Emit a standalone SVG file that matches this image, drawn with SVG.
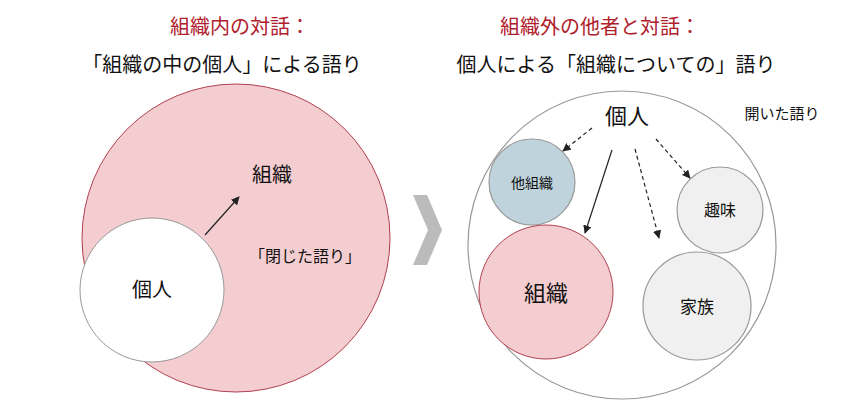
<svg xmlns="http://www.w3.org/2000/svg" width="846" height="420" viewBox="0 0 846 420">
<style>
text{font-family:"Noto Sans CJK JP","Noto Sans",sans-serif;text-anchor:middle;fill:#111}
.t{font-size:20px}
.r{fill:#b0202c;font-size:20px}
.s{stroke:#999;stroke-width:1.2}
.a{stroke:#222;stroke-width:1.2;fill:none;marker-end:url(#m)}
.d{stroke-dasharray:4 3}
</style>
<defs><marker id="m" viewBox="0 0 10 10" refX="9" refY="5" markerWidth="7" markerHeight="7" orient="auto"><path d="M0,0L10,5L0,10z" fill="#222"/></marker></defs>
<text class="r" x="240" y="34">組織内の対話：</text>
<text class="t" x="222" y="72">「組織の中の個人」による語り</text>
<text class="r" x="600" y="34">組織外の他者と対話：</text>
<text class="t" x="616" y="72">個人による「組織についての」語り</text>
<g id="left-org"><circle cx="236" cy="238" r="154" fill="#f4cdd0" stroke="#b04050" stroke-width="1"/>
<text x="272" y="182" font-size="20">組織</text><text x="305" y="262" font-size="16">「閉じた語り」</text></g>
<g id="left-ind"><circle cx="152" cy="290" r="72" fill="#fff" stroke="#999" stroke-width="1"/><text x="152" y="297" font-size="20">個人</text></g>
<polygon points="413,195 427,195 442,230 427,265 413,265 428,230" fill="#bbb"/>
<g id="right-outer"><circle cx="622" cy="245" r="154" fill="#fff" class="s"/>
<text x="627" y="124" font-size="22">個人</text><text x="782" y="119" font-size="15">開いた語り</text></g>
<g id="other"><circle cx="532" cy="182" r="43" fill="#bfd3dc" class="s"/><text x="532" y="188" font-size="14">他組織</text></g>
<g id="org"><circle cx="546" cy="292" r="67" fill="#f4cdd0" stroke="#b04050" stroke-width="1"/><text x="546" y="301" font-size="22">組織</text></g>
<g id="hobby"><circle cx="720" cy="210" r="43" fill="#f0f0f0" class="s"/><text x="720" y="216" font-size="16">趣味</text></g>
<g id="family"><circle cx="697" cy="306" r="54" fill="#f0f0f0" class="s"/><text x="697" y="313" font-size="17">家族</text></g>
<g id="connectors">
<line x1="205" y1="235" x2="239" y2="197" class="a"/>
<line x1="592" y1="128" x2="563" y2="151" class="a d"/>
<line x1="612" y1="150" x2="585" y2="233" class="a"/>
<line x1="635" y1="149" x2="659" y2="238" class="a d"/>
<line x1="656" y1="139" x2="690" y2="178" class="a d"/>
</g>
</svg>
